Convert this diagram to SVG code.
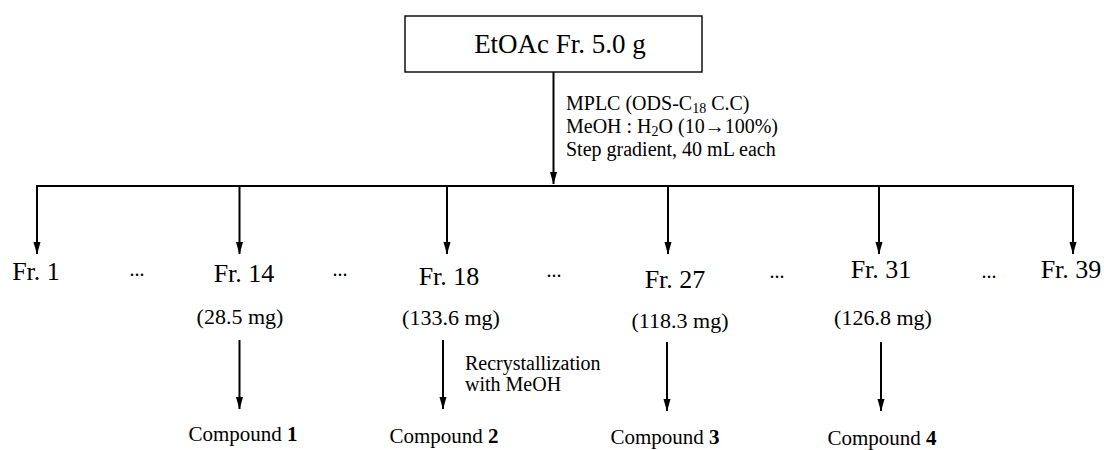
<svg xmlns="http://www.w3.org/2000/svg" width="1104" height="450" viewBox="0 0 1104 450">
<defs>
<marker id="ah" markerUnits="userSpaceOnUse" markerWidth="13" markerHeight="8" refX="12" refY="4" orient="auto" viewBox="0 0 13 8">
<path d="M0,0.5 L12.5,4 L0,7.5 Z" fill="#000"/>
</marker>
<style>
text{font-family:"Liberation Serif","Times New Roman",serif;fill:#000}
.c{text-anchor:middle}
.fr{font-size:26px}
.ms{font-size:22px}
.cp{font-size:21px}
.note{font-size:20px}
.dt{font-size:20px}
.ln{stroke:#000;stroke-width:2;fill:none}
.arr{stroke:#000;stroke-width:2;fill:none;marker-end:url(#ah)}
</style>
</defs>
<rect width="1104" height="450" fill="#fff"/>
<g id="connectors">
<line class="arr" x1="553.5" y1="72" x2="553.5" y2="184"/>
<line class="ln" x1="36" y1="186" x2="1074" y2="186"/>
<line class="arr" x1="37" y1="186" x2="37" y2="254"/>
<line class="arr" x1="239.5" y1="186" x2="239.5" y2="254"/>
<line class="arr" x1="447" y1="186" x2="447" y2="254"/>
<line class="arr" x1="668" y1="186" x2="668" y2="254"/>
<line class="arr" x1="879" y1="186" x2="879" y2="254"/>
<line class="arr" x1="1073" y1="186" x2="1073" y2="254"/>
<line class="arr" x1="239.5" y1="340" x2="239.5" y2="409"/>
<line class="arr" x1="443" y1="340" x2="443" y2="409"/>
<line class="arr" x1="667" y1="342" x2="667" y2="411"/>
<line class="arr" x1="881" y1="342" x2="881" y2="411"/>
</g>
<g id="n-etoac">
<rect x="405" y="16" width="297" height="56" fill="#fff" stroke="#000" stroke-width="1.4"/>
<text class="c" x="560" y="53" font-size="27">EtOAc Fr. 5.0 g</text>
</g>
<g id="mplc-label">
<text class="note" x="566" y="110">MPLC (ODS-C<tspan font-size="14" dy="3">18</tspan><tspan dy="-3"> C.C)</tspan></text>
<text class="note" x="566" y="133">MeOH : H<tspan font-size="14" dy="3">2</tspan><tspan dy="-3">O (10→100%)</tspan></text>
<text class="note" x="566" y="156">Step gradient, 40 mL each</text>
</g>
<g id="n-fr1"><text class="fr c" x="36" y="280">Fr. 1</text></g>
<g id="n-fr14"><text class="fr c" x="244" y="282">Fr. 14</text><text class="ms c" x="240" y="324">(28.5 mg)</text></g>
<g id="n-fr18"><text class="fr c" x="449" y="285">Fr. 18</text><text class="ms c" x="451" y="325">(133.6 mg)</text></g>
<g id="n-fr27"><text class="fr c" x="675" y="288">Fr. 27</text><text class="ms c" x="680" y="328">(118.3 mg)</text></g>
<g id="n-fr31"><text class="fr c" x="881" y="278">Fr. 31</text><text class="ms c" x="883" y="325">(126.8 mg)</text></g>
<g id="n-fr39"><text class="fr c" x="1071" y="278">Fr. 39</text></g>
<g id="dots">
<text class="dt c" x="137" y="276">...</text>
<text class="dt c" x="340" y="276">...</text>
<text class="dt c" x="554" y="277">...</text>
<text class="dt c" x="777" y="278">...</text>
<text class="dt c" x="989" y="278">...</text>
</g>
<g id="recryst-label">
<text class="note" x="465" y="370">Recrystallization</text>
<text class="note" x="465" y="391">with MeOH</text>
</g>
<g id="n-c1"><text class="cp c" x="243" y="441">Compound <tspan font-weight="bold">1</tspan></text></g>
<g id="n-c2"><text class="cp c" x="444" y="443">Compound <tspan font-weight="bold">2</tspan></text></g>
<g id="n-c3"><text class="cp c" x="665" y="444">Compound <tspan font-weight="bold">3</tspan></text></g>
<g id="n-c4"><text class="cp c" x="882" y="445">Compound <tspan font-weight="bold">4</tspan></text></g>
</svg>
